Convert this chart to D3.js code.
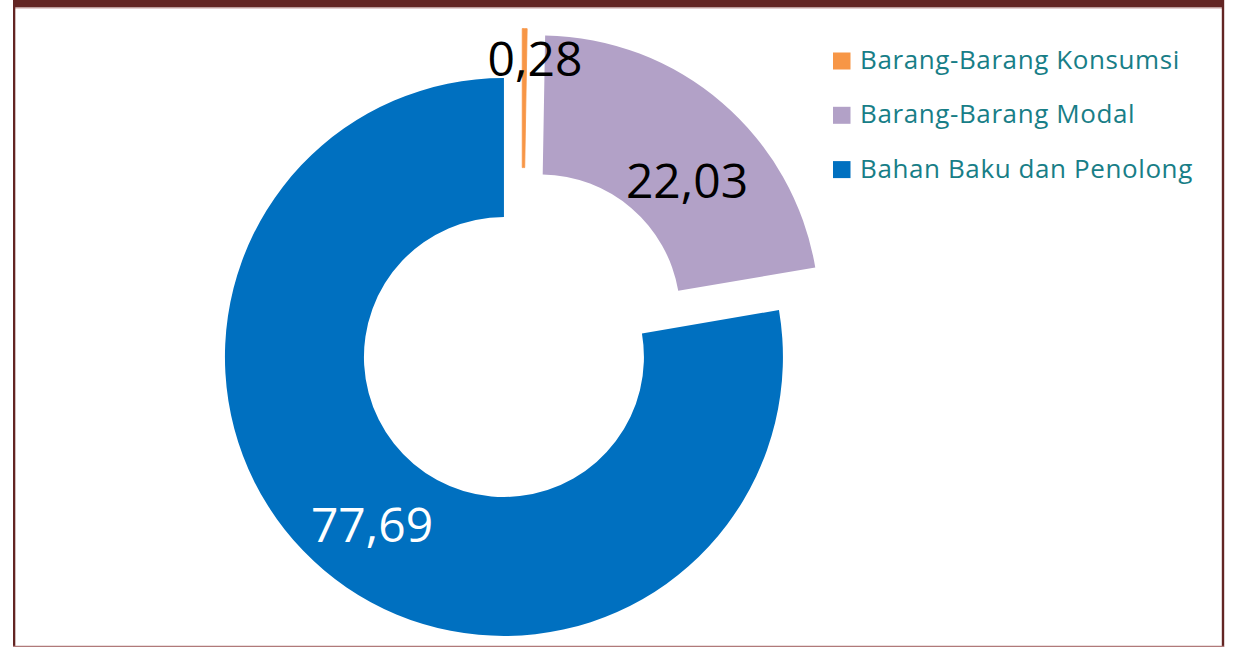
<!DOCTYPE html>
<html>
<head>
<meta charset="utf-8">
<script src="https://cdn.jsdelivr.net/npm/d3@7"></script>
<style>
  html, body { margin: 0; padding: 0; background: #fff; }
  svg { display: block; }
</style>
</head>
<body>
<svg id="chart"></svg>
<script>
// données (pourcentages)
const categories = ["Barang-Barang Konsumsi", "Barang-Barang Modal", "Bahan Baku dan Penolong"];
const values = [0.28, 22.03, 77.69];
const labels = ["0,28", "22,03", "77,69"];
const colors = ["#F79646", "#B2A1C7", "#0070C0"];
const labelColors = ["#000000", "#000000", "#FFFFFF"];

const W = 1235, H = 647;
const svg = d3.select("#chart").attr("width", W).attr("height", H);

// cadre
const frame = "#632523";
svg.append("rect").attr("x", 13).attr("y", 0).attr("width", 1211).attr("height", 7.5).attr("fill", frame);
svg.append("line").attr("x1", 15).attr("x2", 1222).attr("y1", 8.2).attr("y2", 8.2)
    .attr("stroke", "#d9b8b8").attr("stroke-width", 1);
svg.append("rect").attr("x", 13).attr("y", 0).attr("width", 2.3).attr("height", H).attr("fill", frame);
svg.append("rect").attr("x", 1221.8).attr("y", 0).attr("width", 2.4).attr("height", H).attr("fill", frame);
svg.append("line").attr("x1", 13).attr("x2", 1224).attr("y1", 646.3).attr("y2", 646.3)
    .attr("stroke", "#b07a7a").attr("stroke-width", 1.2);

// donut
const cx = 522, cy = 335.6, R = 279, r = 140, explode = 28;

const pie = d3.pie().sort(null).value(d => d)(values);
const arc = d3.arc().innerRadius(r).outerRadius(R);

const slices = svg.append("g").attr("transform", `translate(${cx},${cy})`);

slices.selectAll("g.slice")
    .data(pie)
    .join("g")
    .attr("class", "slice")
    .attr("transform", d => {
        const a = (d.startAngle + d.endAngle) / 2;
        return `translate(${explode * Math.sin(a)},${-explode * Math.cos(a)})`;
    })
    .each(function(d, i) {
        const g = d3.select(this);
        const path = g.append("path")
            .attr("d", arc(d))
            .attr("fill", colors[i]);
        if (d.endAngle - d.startAngle < 0.05) {
            path.attr("stroke", colors[i]).attr("stroke-width", 0.8);
        }
    });

// étiquettes
const labelPos = [[535, 57], [687, 179], [372, 523]];
svg.selectAll("text.val")
    .data(labels)
    .join("text")
    .attr("class", "val")
    .attr("x", (d, i) => labelPos[i][0])
    .attr("y", (d, i) => labelPos[i][1])
    .attr("text-anchor", "middle")
    .attr("dominant-baseline", "central")
    .attr("font-family", "Open Sans, sans-serif")
    .attr("font-size", "48px")
    .attr("fill", (d, i) => labelColors[i])
    .text(d => d);

// légende
const legend = svg.append("g").attr("transform", "translate(833,52.5)");
const rows = legend.selectAll("g")
    .data(categories)
    .join("g")
    .attr("transform", (d, i) => `translate(0,${i * 54.3})`);

rows.append("rect")
    .attr("width", 17.5)
    .attr("height", 17)
    .attr("fill", (d, i) => colors[i]);

rows.append("text")
    .attr("x", 27)
    .attr("y", 16.5)
    .attr("font-family", "Open Sans, sans-serif")
    .attr("font-size", "26px")
    .attr("letter-spacing", "0.6px")
    .attr("fill", "#187E87")
    .text(d => d);
</script>
</body>
</html>
